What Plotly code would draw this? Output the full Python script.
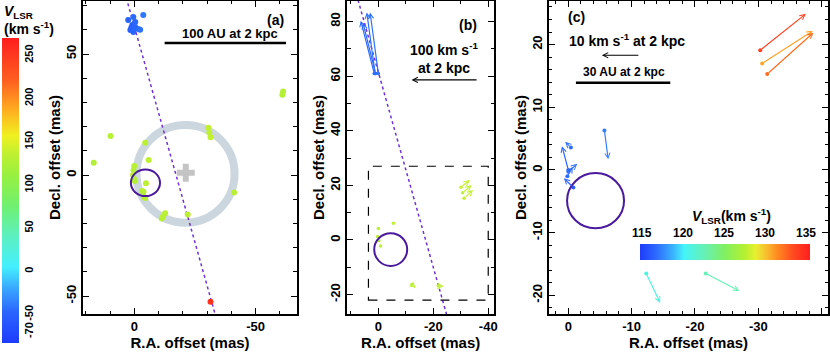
import plotly.graph_objects as go
from plotly.colors import sample_colorscale

W, H = 830, 353
FONT = "Liberation Sans"

# colour scales
SCALE_A = [[0.00, "#1e3cff"], [0.10, "#2a64ff"], [0.18, "#3aa8ff"], [0.25, "#44f0ff"],
           [0.35, "#5cf0c0"], [0.45, "#70f070"], [0.55, "#98f040"], [0.62, "#c0f030"],
           [0.68, "#f0f020"], [0.76, "#ffb020"], [0.86, "#ff6020"], [1.00, "#ff1e1e"]]
SCALE_C = [[0.00, "#1e3cff"], [0.10, "#2e6cff"], [0.20, "#3ab8ff"], [0.26, "#44f4f8"],
           [0.40, "#6cf0a8"], [0.50, "#80f060"], [0.62, "#b8f030"], [0.68, "#e8f030"],
           [0.74, "#f8c030"], [0.80, "#ff9020"], [0.90, "#ff4a20"], [1.00, "#ff1e1e"]]
VMIN_A, VMAX_A = -83, 270
VMIN_C, VMAX_C = 115, 135
CB_A_TICKS = [-70, -50, 0, 50, 100, 150, 200, 250]
CB_C_TICKS = [115, 120, 125, 130, 135]

# (a) maser spots: R.A. offset, Decl. offset (mas), V_LSR (km/s)
spot_ra = [2.5, 0.4, -3.7, 0.8, -0.4, 1.6, -1.6, 0.4, -0.4, 1.2, -2.4, 0.0,
           9.8, 16.7, -4.5, -5.9, 0.0, 0.3, 0.5, 0.2, -0.2, -4.8, -3.2, -3.8, -4.1, -4.5,
           -12.7, -11.8, -11.3, -22.0, -30.5, -30.9, -31.4, -41.1, -61.0, -61.3,
           -31.4]
spot_dec = [64.0, 65.3, 66.1, 62.0, 61.2, 59.9, 60.3, 59.1, 63.2, 61.0, 60.0, 60.5,
            16.1, 5.1, 13.3, 6.2, 3.7, 2.0, 0.0, -1.5, -2.5, -3.4, -6.6, -6.9, -9.1, -9.5,
            -15.8, -17.2, -17.9, -16.3, 19.5, 17.5, 15.6, -7.2, 33.2, 34.5,
            -52.3]
spot_v = [-48, -45, -40, -50, -47, -52, -44, -49, -46, -51, -42, -48,
          130, 128, 132, 135, 131, 129, 133, 130, 128, 134, 131, 130, 129, 132,
          133, 131, 130, 134, 136, 135, 137, 132, 128, 129,
          255]

# (b) proper motions: start (ra, dec), end (ra, dec), V_LSR
pm_b_ra0 = [1.5, 1.0, 1.2, 0.0, 0.0, 0.3, -0.2, -0.8, -5.5, -12.2, -21.8, -30.1, -30.7, -31.2]
pm_b_dec0 = [61.0, 61.0, 61.0, 61.0, 4.2, 1.3, -0.2, -2.2, 6.1, -16.3, -16.8, 19.3, 17.3, 15.3]
pm_b_ra1 = [6.4, 5.6, 4.2, 3.0, -1.0, -0.7, -1.2, -1.6, -6.6, -13.6, -23.8, -33.3, -34.0, -34.5]
pm_b_dec1 = [80.3, 79.5, 83.3, 83.3, 3.4, 0.6, -0.8, -3.0, 5.2, -17.6, -16.9, 22.0, 20.1, 18.3]
pm_b_v = [-45, -47, -44, -42, 130, 132, 128, 131, 135, 133, 134, 138, 136, 137]

# (c) proper motions in the dashed box
pm_c_ra0 = [-30.3, -30.6, -31.4, -5.7, -0.4, 0.0, 0.0, 0.15, -0.8, -12.3, -21.7]
pm_c_dec0 = [19.1, 17.0, 15.3, 6.3, 3.6, 0.0, -0.3, -1.0, -2.8, -16.5, -16.5]
pm_c_ra1 = [-37.5, -38.6, -38.7, -6.3, 0.5, 1.0, -1.4, -0.7, 0.7, -14.5, -27.0]
pm_c_dec1 = [24.9, 22.2, 21.9, 1.7, 4.5, 3.8, 1.0, 0.5, -1.3, -21.2, -19.3]
pm_c_v = [133.5, 130.5, 132.0, 117.5, 117.0, 116.8, 117.2, 117.0, 116.5, 121.0, 122.5]

# jet axis (dotted line), two points on it
axis_ra = [8.0, -34.0]
axis_dec = [90.0, -60.0]

# ring and centre cross in (a); circle in each panel (centre ra, dec, radius)
RING = (-21.1, 0.5, 20.2)
CROSS = (-21.2, 1.0)
CIRC_A = (-4.6, -3.2, 6.0, 5.5)
CIRC_B = (-4.5, -3.5, 6.0, 6.0)
CIRC_C = (-4.3, -4.9, 4.5, 4.4)
BOX_B = (3.6, -40.0, -22.0, 27.0)


def colour(scale, vmin, vmax, v):
    return sample_colorscale(scale, [(v - vmin) / (vmax - vmin)])[0]


def axis(domain, rng, anchor, minor, tickvals, title, angle=0):
    return dict(
        domain=domain, range=rng, anchor=anchor,
        tickmode="array", tickvals=tickvals, ticktext=[str(t) for t in tickvals],
        minor=dict(dtick=minor, tick0=0, ticks="inside", ticklen=3.5, tickwidth=1, tickcolor="black"),
        ticks="inside", ticklen=6, tickwidth=1.2, tickcolor="black",
        showline=True, linewidth=1.5, linecolor="black", mirror="ticks",
        showgrid=False, zeroline=False, tickangle=angle, automargin=False,
        tickfont=dict(family=FONT, size=13, color="black", weight="bold"),
        title=dict(text="<b>" + title + "</b>", font=dict(family=FONT, size=15, color="black"), standoff=0),
    )


ydom = [1 - 314 / H, 1 - 1 / H]
fig = go.Figure()

for xa, ya in [("x", "y"), ("x2", "y2")]:
    fig.add_trace(go.Scatter(x=axis_ra, y=axis_dec, xaxis=xa, yaxis=ya, mode="lines",
                             line=dict(color="#7032d8", width=1.5, dash="dot"), hoverinfo="skip"))

fig.add_trace(go.Scatter(x=[CROSS[0]], y=[CROSS[1]], mode="markers",
                         marker=dict(symbol="cross", size=15, color="#c4c4c4", line=dict(width=0))))
fig.add_trace(go.Scatter(x=spot_ra, y=spot_dec, mode="markers",
                         marker=dict(size=6, color=spot_v, coloraxis="coloraxis", line=dict(width=0))))
fig.add_trace(go.Scatter(x=pm_b_ra0, y=pm_b_dec0, xaxis="x2", yaxis="y2", mode="markers",
                         marker=dict(size=3.5, color=pm_b_v, coloraxis="coloraxis")))
fig.add_trace(go.Scatter(x=pm_c_ra0, y=pm_c_dec0, xaxis="x3", yaxis="y3", mode="markers",
                         marker=dict(size=4, color=pm_c_v, coloraxis="coloraxis2")))

shapes = []
shapes.append(dict(type="circle", xref="x", yref="y", layer="below",
                   x0=RING[0] - RING[2], x1=RING[0] + RING[2], y0=RING[1] - RING[2], y1=RING[1] + RING[2],
                   line=dict(color="#ccd6df", width=8)))
for (cx, cy, rx, ry), ax in [(CIRC_A, ""), (CIRC_B, "2"), (CIRC_C, "3")]:
    shapes.append(dict(type="circle", xref="x" + ax, yref="y" + ax,
                       x0=cx - rx, x1=cx + rx, y0=cy - ry, y1=cy + ry,
                       line=dict(color="#4a1a9e", width=2)))
shapes.append(dict(type="rect", xref="x2", yref="y2", x0=BOX_B[0], x1=BOX_B[1], y0=BOX_B[2], y1=BOX_B[3],
                   line=dict(color="black", width=1.2, dash="dash")))
shapes.append(dict(type="line", xref="x", yref="y", x0=-12.5, x1=-62.5, y0=54.5, y1=54.5,
                   line=dict(color="black", width=2.5)))
shapes.append(dict(type="line", xref="x3", yref="y3", x0=-1.2, x1=-16.1, y0=13.9, y1=13.9,
                   line=dict(color="black", width=2.5)))

ann = []


def arrow(ax, x0, y0, x1, y1, col, width=1.2):
    ann.append(dict(xref="x" + ax, yref="y" + ax, axref="x" + ax, ayref="y" + ax,
                    x=x1, y=y1, ax=x0, ay=y0, text="", showarrow=True,
                    arrowhead=5, arrowsize=0.85, arrowwidth=width, arrowcolor=col))


for x0, y0, x1, y1, v in zip(pm_b_ra0, pm_b_dec0, pm_b_ra1, pm_b_dec1, pm_b_v):
    arrow("2", x0, y0, x1, y1, colour(SCALE_A, VMIN_A, VMAX_A, v))
for x0, y0, x1, y1, v in zip(pm_c_ra0, pm_c_dec0, pm_c_ra1, pm_c_dec1, pm_c_v):
    arrow("3", x0, y0, x1, y1, colour(SCALE_C, VMIN_C, VMAX_C, v))
arrow("2", -36.3, 58.6, -12.1, 58.6, "black")
arrow("3", -11.3, 18.3, -5.3, 18.3, "black")


def text(ax, x, y, s, size=13):
    ann.append(dict(xref="x" + ax, yref="y" + ax, x=x, y=y, text="<b>" + s + "</b>", showarrow=False,
                    xanchor="center", yanchor="middle", font=dict(family=FONT, size=size, color="black")))


text("", -58.0, 64.0, "(a)", 14)
text("", -39.3, 58.3, "100 AU at 2 kpc", 13)
text("2", -32.7, 78.8, "(b)", 14)
text("2", -23.9, 66.8, "100 km s<sup>-1</sup><br>at 2 kpc", 14)
text("3", -1.3, 24.4, "(c)", 14)
text("3", -9.3, 20.7, "10 km s<sup>-1</sup> at 2 kpc", 14)
text("3", -8.75, 15.7, "30 AU at 2 kpc", 12)

ann.append(dict(xref="paper", yref="paper", x=2 / W, y=1 - 1 / H, xanchor="left", yanchor="top", align="left",
                showarrow=False, text="<b><i>V</i><sub>LSR</sub><br>(km s<sup>-1</sup>)</b>",
                font=dict(family=FONT, size=14, color="black")))

CB_C_X0, CB_C_X1 = 640, 810
for t in CB_C_TICKS:
    xp = CB_C_X0 + 2 + (t - VMIN_C) / (VMAX_C - VMIN_C) * (CB_C_X1 - CB_C_X0 - 6)
    ann.append(dict(xref="paper", yref="paper", x=xp / W, y=1 - 233 / H, showarrow=False,
                    xanchor="center", yanchor="middle",
                    text="<b>%d</b>" % t, font=dict(family=FONT, size=12, color="black")))
ann.append(dict(xref="paper", yref="paper", x=731 / W, y=1 - 216 / H, showarrow=False,
                xanchor="center", yanchor="middle",
                text="<b><i>V</i><sub>LSR</sub>(km s<sup>-1</sup>)</b>",
                font=dict(family=FONT, size=14, color="black")))

fig.update_layout(
    width=W, height=H, margin=dict(l=0, r=0, t=0, b=0, autoexpand=False),
    paper_bgcolor="white", plot_bgcolor="white", showlegend=False,
    font=dict(family=FONT, color="black"),
    xaxis=axis([83.3 / W, 296.7 / W], [21.0, -66.9], "y", 10, [0, -50], "R.A. offset (mas)"),
    yaxis=axis(ydom, [-57.4, 71.9], "x", 10, [-50, 0, 50], "Decl. offset (mas)", -90),
    xaxis2=axis([347.3 / W, 494 / W], [11.3, -42.1], "y2", 10, [0, -20, -40], "R.A. offset (mas)"),
    yaxis2=axis(ydom, [-27.1, 87.5], "x2", 10, [-20, 0, 20, 40, 60, 80], "Decl. offset (mas)", -90),
    xaxis3=axis([549 / W, 828 / W], [3.05, -41.0], "y3", 2, [0, -10, -20, -30, -40], "R.A. offset (mas)"),
    yaxis3=axis(ydom, [-22.97, 26.95], "x3", 2, [-20, -10, 0, 10, 20], "Decl. offset (mas)", -90),
    coloraxis=dict(colorscale=SCALE_A, cmin=VMIN_A, cmax=VMAX_A, colorbar=dict(
        x=2 / W, xanchor="left", xpad=0, y=1 - 190.5 / H, yanchor="middle", ypad=0,
        len=305, lenmode="pixels", thickness=17, outlinewidth=0,
        tickmode="array", tickvals=CB_A_TICKS, ticktext=[str(t) for t in CB_A_TICKS],
        tickangle=-90, ticks="", tickfont=dict(family=FONT, size=11, color="black", weight="bold"))),
    coloraxis2=dict(colorscale=SCALE_C, cmin=VMIN_C, cmax=VMAX_C, colorbar=dict(
        orientation="h", x=(CB_C_X0 + CB_C_X1) / 2 / W, xanchor="center", xpad=0,
        y=1 - 260 / H, yanchor="bottom", ypad=0, len=CB_C_X1 - CB_C_X0, lenmode="pixels",
        thickness=16, outlinewidth=0, showticklabels=False, ticks="")),
    shapes=shapes, annotations=ann,
)

# the page body has a default 8px margin; drop it so the figure fills the window
fig.write_html("out.html", config={"displayModeBar": False},
               post_script="document.body.style.margin='0';")
